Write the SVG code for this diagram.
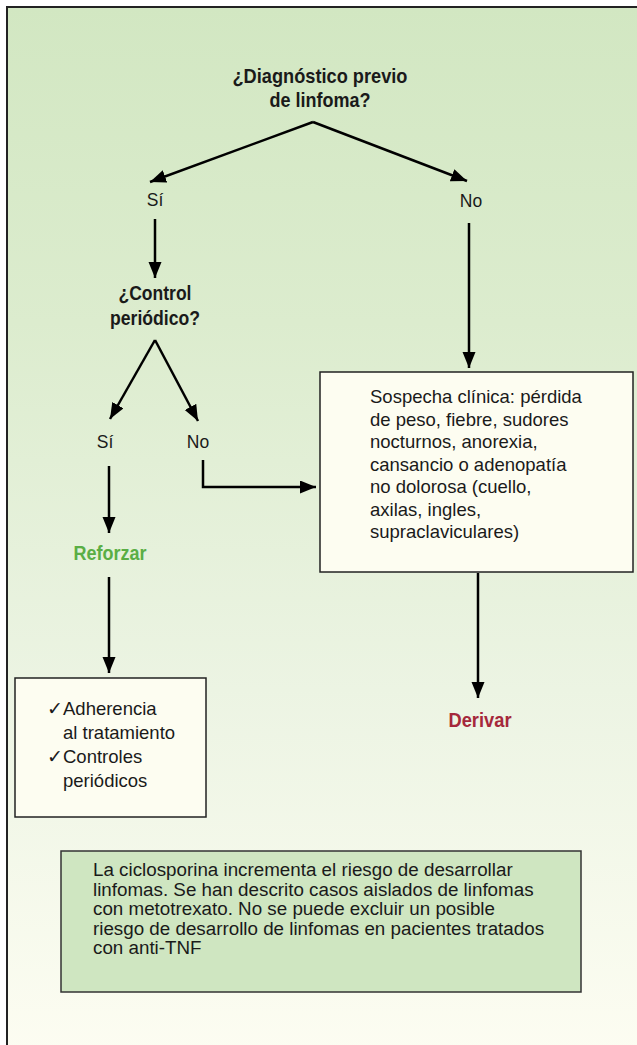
<svg xmlns="http://www.w3.org/2000/svg" width="637" height="1045" viewBox="0 0 637 1045">
  <defs>
    <linearGradient id="bg" x1="0" y1="0" x2="0" y2="1">
      <stop offset="0" stop-color="#D2E7C2"/>
      <stop offset="0.3" stop-color="#DCECCE"/>
      <stop offset="0.65" stop-color="#ECF4E3"/>
      <stop offset="1" stop-color="#FDFDF2"/>
    </linearGradient>
    <marker id="arrow" markerUnits="userSpaceOnUse" markerWidth="17" markerHeight="14" refX="16" refY="6.5" orient="auto">
      <path d="M0,0 L16,6.5 L0,13 Z" fill="#000"/>
    </marker>
    <style>
      .q { font-family: "Liberation Sans", Arial, sans-serif; font-weight: bold; font-size: 20.5px; fill: #1a1a1a; text-anchor: middle; }
      .lbl { font-family: "Liberation Sans", Arial, sans-serif; font-size: 17.5px; fill: #1a1a1a; text-anchor: middle; }
      .body { font-family: "Liberation Sans", Arial, sans-serif; font-size: 18.5px; fill: #1a1a1a; }
      .note { font-family: "Liberation Sans", Arial, sans-serif; font-size: 18.8px; fill: #1a1a1a; }
      .chk { font-family: "DejaVu Sans", sans-serif; font-size: 19px; }
      .box { fill: #FDFDF1; stroke: #222; stroke-width: 1.5; }
      .notebox { fill: #CFE6C1; stroke: #333; stroke-width: 1.5; }
      .conn { fill: none; stroke: #000; stroke-width: 2.5; marker-end: url(#arrow); }
    </style>
  </defs>

  <!-- page background and frame -->
  <rect x="0" y="0" width="637" height="1045" fill="#fff"/>
  <rect x="7" y="7" width="640" height="1050" fill="url(#bg)" stroke="#222" stroke-width="2"/>

  <!-- connectors -->
  <g id="connectors">
    <line class="conn" x1="313" y1="122" x2="150" y2="182"/>
    <line class="conn" x1="313" y1="122" x2="467" y2="181"/>
    <line class="conn" x1="155" y1="219" x2="155" y2="278"/>
    <line class="conn" x1="469" y1="223" x2="469" y2="368"/>
    <line class="conn" x1="155" y1="340" x2="110" y2="419"/>
    <line class="conn" x1="155" y1="340" x2="198" y2="421"/>
    <line class="conn" x1="109" y1="466" x2="109" y2="533"/>
    <polyline class="conn" points="203,460 203,487 316,487"/>
    <line class="conn" x1="109" y1="577" x2="109" y2="673"/>
    <line class="conn" x1="478" y1="573" x2="478" y2="698"/>
  </g>

  <!-- bold question labels, condensed to their printed widths -->
  <g id="q-diagnostico">
    <text class="q" x="320" y="83" textLength="175" lengthAdjust="spacingAndGlyphs">¿Diagnóstico previo</text>
    <text class="q" x="320" y="107" textLength="101" lengthAdjust="spacingAndGlyphs">de linfoma?</text>
  </g>

  <g id="si-1"><text class="lbl" x="155" y="206">Sí</text></g>
  <g id="no-1"><text class="lbl" x="471" y="207">No</text></g>

  <g id="q-control">
    <text class="q" x="155" y="300" textLength="73" lengthAdjust="spacingAndGlyphs">¿Control</text>
    <text class="q" x="155" y="325" textLength="90" lengthAdjust="spacingAndGlyphs">periódico?</text>
  </g>

  <g id="si-2"><text class="lbl" x="105" y="448">Sí</text></g>
  <g id="no-2"><text class="lbl" x="198" y="448">No</text></g>

  <g id="sospecha">
    <rect class="box" x="320" y="372" width="313" height="200"/>
    <text class="body" x="370" y="403">Sospecha clínica: pérdida</text>
    <text class="body" x="370" y="425.5">de peso, fiebre, sudores</text>
    <text class="body" x="370" y="448">nocturnos, anorexia,</text>
    <text class="body" x="370" y="470.5">cansancio o adenopatía</text>
    <text class="body" x="370" y="493">no dolorosa (cuello,</text>
    <text class="body" x="370" y="515.5">axilas, ingles,</text>
    <text class="body" x="370" y="538">supraclaviculares)</text>
  </g>

  <g id="reforzar"><text class="q" x="110" y="560" style="fill:#5AAE45" textLength="73" lengthAdjust="spacingAndGlyphs">Reforzar</text></g>

  <g id="derivar"><text class="q" x="480" y="727" style="fill:#A5283B" textLength="63" lengthAdjust="spacingAndGlyphs">Derivar</text></g>

  <g id="acciones">
    <rect class="box" x="15" y="678" width="191" height="139"/>
    <text class="body" x="47" y="715"><tspan class="chk">✓</tspan><tspan x="63">Adherencia</tspan></text>
    <text class="body" x="63" y="739">al tratamiento</text>
    <text class="body" x="47" y="763"><tspan class="chk">✓</tspan><tspan x="63">Controles</tspan></text>
    <text class="body" x="63" y="787">periódicos</text>
  </g>

  <g id="nota">
    <rect class="notebox" x="61" y="851" width="520" height="141"/>
    <text class="note" x="93" y="876">La ciclosporina incrementa el riesgo de desarrollar</text>
    <text class="note" x="93" y="895.5">linfomas. Se han descrito casos aislados de linfomas</text>
    <text class="note" x="93" y="915">con metotrexato. No se puede excluir un posible</text>
    <text class="note" x="93" y="934.5">riesgo de desarrollo de linfomas en pacientes tratados</text>
    <text class="note" x="93" y="954">con anti-TNF</text>
  </g>
</svg>
